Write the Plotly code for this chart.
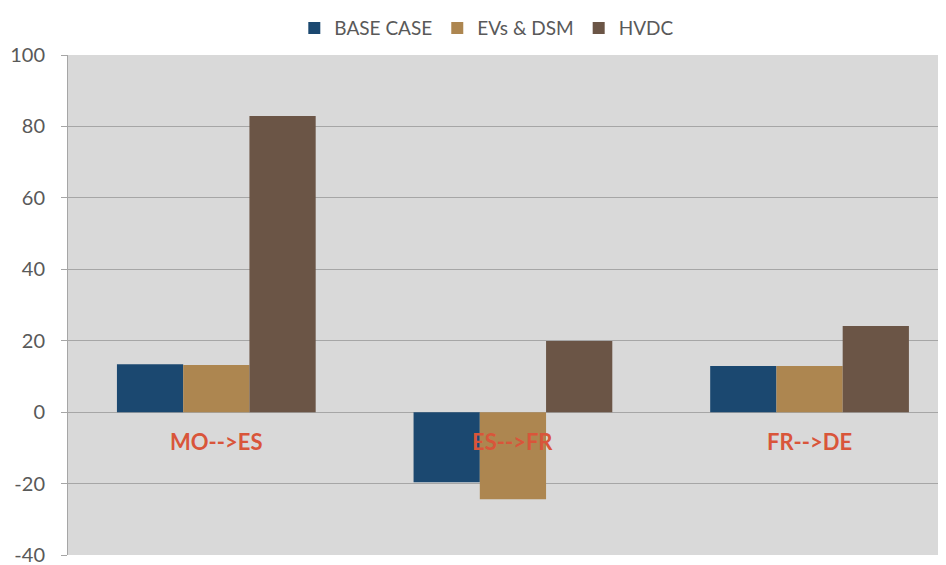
import plotly.graph_objects as go

categories = ["MO-->ES", "ES-->FR", "FR-->DE"]
series_names = ["BASE CASE", "EVs & DSM", "HVDC"]
base_case = [13.4, -19.6, 12.9]
evs_dsm = [13.2, -24.4, 12.9]
hvdc = [82.9, 19.9, 24.1]
y_ticks = [-40, -20, 0, 20, 40, 60, 80, 100]
y_tick_text = ["-40", "-20", "0", "20", "40", "60", "80", "100"]

colors = ["#1b4870", "#ad8650", "#6b5546"]
values = [base_case, evs_dsm, hvdc]

fig = go.Figure()
for name, vals, col in zip(series_names, values, colors):
    fig.add_trace(go.Bar(x=categories, y=vals, name=name,
                         marker=dict(color=col, line=dict(width=0))))

for c in categories:
    fig.add_annotation(x=c, y=0, text="<b>%s</b>" % c, showarrow=False,
                       yshift=-29, font=dict(family="Lato", size=22, color="#d9553a"))

# page body has an 8px default margin: size/offset compensated
fig.update_layout(
    width=938, height=565,
    barmode="group", bargap=0.33, bargroupgap=0,
    paper_bgcolor="white", plot_bgcolor="#d9d9d9",
    margin=dict(l=60, r=0, t=47, b=18, autoexpand=False),
    font=dict(family="Lato", color="#595959"),
    legend=dict(orientation="h", x=0.477, xanchor="center", y=0.998, yref="container",
                yanchor="top", font=dict(size=19, color="#595959"), itemwidth=30,
                traceorder="normal"),
    showlegend=True,
)
fig.update_xaxes(range=[-0.5, 2.46], showticklabels=False, showgrid=False,
                 zeroline=False, showline=False, ticks="", automargin=False)
fig.update_yaxes(range=[-40, 100], tickvals=y_ticks, ticktext=y_tick_text, showgrid=True,
                 gridcolor="#a6a6a6", gridwidth=1, zeroline=True, zerolinecolor="#a6a6a6",
                 zerolinewidth=1, showline=True, linecolor="#a6a6a6", linewidth=1,
                 ticks="outside", ticklen=6, tickcolor="#a6a6a6", automargin=False,
                 ticklabelstandoff=12,
                 tickfont=dict(size=20, color="#595959"))

fig.write_html("out.html")
